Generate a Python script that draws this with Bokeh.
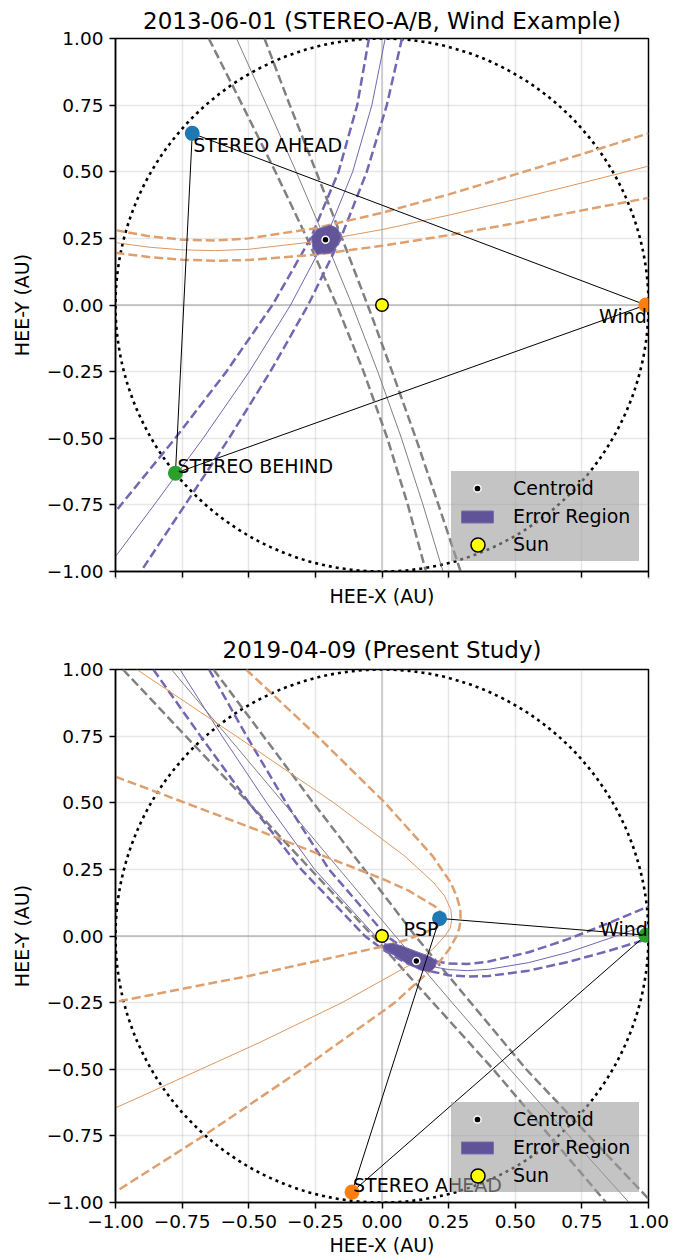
from bokeh.plotting import figure
from bokeh.layouts import column
from bokeh.models import (Range1d, FixedTicker, CustomJSTickFormatter, Span,
                          Legend, LegendItem, ColumnDataSource)
from bokeh.core.properties import value
from bokeh.embed import file_html
from bokeh.resources import INLINE

# ----------------------------------------------------------------- data
tick_values = [-1.0, -0.75, -0.5, -0.25, 0.0, 0.25, 0.5, 0.75, 1.0]
tick_labels = ["\u22121.00", "\u22120.75", "\u22120.50", "\u22120.25", "0.00",
               "0.25", "0.50", "0.75", "1.00"]
orbit_radius_au = 1.0
sun_x = [0.0]
sun_y = [0.0]
legend_labels = ["Centroid", "Error Region", "Sun"]

# ---- panel 1 : 2013-06-01
p1_title = "2013-06-01 (STEREO-A/B, Wind Example)"
p1_sc_names = ["STEREO AHEAD", "STEREO BEHIND", "Wind"]
p1_sc_x = [-0.712, -0.775, 0.99]
p1_sc_y = [0.644, -0.631, 0.0]
p1_centroid_x = [-0.212]
p1_centroid_y = [0.245]
p1_err_x = [-0.265, -0.244, -0.194, -0.166, -0.154, -0.166, -0.187, -0.244, -0.259]
p1_err_y = [0.256, 0.284, 0.300, 0.287, 0.256, 0.225, 0.196, 0.190, 0.212]

p1_purple_mid_x = [0.012, -0.038, -0.110, -0.211, -0.343, -0.498, -0.671, -0.855, -1.000]
p1_purple_mid_y = [1.000, 0.750, 0.500, 0.250, 0.000, -0.250, -0.500, -0.750, -0.944]
p1_purple_a_x = [-0.049, -0.093, -0.163, -0.268, -0.411, -0.584, -0.776, -1.000]
p1_purple_a_y = [1.000, 0.750, 0.500, 0.250, 0.000, -0.250, -0.500, -0.775]
p1_purple_b_x = [0.075, 0.018, -0.057, -0.155, -0.277, -0.419, -0.574, -0.739, -0.905]
p1_purple_b_y = [1.000, 0.750, 0.500, 0.250, 0.000, -0.250, -0.500, -0.750, -1.000]

p1_gray_y = [1.000, 0.750, 0.500, 0.250, 0.000, -0.250, -0.500, -0.750, -1.000]
p1_gray_mid_x = [-0.546, -0.433, -0.322, -0.215, -0.112, -0.016, 0.073, 0.154, 0.229]
p1_gray_a_x = [-0.650, -0.524, -0.400, -0.281, -0.170, -0.069, 0.020, 0.097, 0.165]
p1_gray_b_x = [-0.441, -0.346, -0.247, -0.150, -0.054, 0.038, 0.127, 0.212, 0.295]

p1_orange_x = [-1.000, -0.875, -0.750, -0.625, -0.500, -0.250, 0.000, 0.250, 0.500, 0.750, 1.000]
p1_orange_mid_y = [0.234, 0.217, 0.207, 0.204, 0.209, 0.238, 0.283, 0.337, 0.396, 0.458, 0.521]
p1_orange_a_y = [0.281, 0.258, 0.245, 0.242, 0.250, 0.288, 0.346, 0.415, 0.490, 0.566, 0.644]
p1_orange_b_y = [0.196, 0.180, 0.170, 0.166, 0.169, 0.189, 0.222, 0.262, 0.307, 0.355, 0.402]

# ---- panel 2 : 2019-04-09
p2_title = "2019-04-09 (Present Study)"
p2_sc_names = ["PSP", "STEREO AHEAD", "Wind"]
p2_sc_x = [0.216, -0.1125, 0.99]
p2_sc_y = [0.066, -0.961, 0.003]
p2_centroid_x = [0.129]
p2_centroid_y = [-0.094]
p2_err_x = [0.009, 0.044, 0.081, 0.131, 0.181, 0.206, 0.200, 0.181, 0.144, 0.094, 0.044, 0.012, 0.004]
p2_err_y = [-0.031, -0.028, -0.040, -0.059, -0.078, -0.094, -0.115, -0.134, -0.128, -0.103, -0.071, -0.053, -0.040]

p2_purple_mid_x = [-0.758, -0.600, -0.433, -0.253, -0.025, 0.042, 0.095, 0.140, 0.161, 0.200,
                   0.250, 0.320, 0.400, 0.550, 0.700, 0.850, 1.000]
p2_purple_mid_y = [1.000, 0.750, 0.500, 0.250, 0.000, -0.050, -0.080, -0.100, -0.107, -0.117,
                   -0.126, -0.130, -0.125, -0.100, -0.061, -0.010, 0.044]
p2_purple_a_x = [-0.858, -0.681, -0.499, -0.303, -0.064, 0.002, 0.089, 0.155, 0.250, 0.320,
                 0.400, 0.550, 0.700, 0.850, 1.000]
p2_purple_a_y = [1.000, 0.750, 0.500, 0.250, 0.000, -0.050, -0.100, -0.126, -0.147, -0.152,
                 -0.150, -0.130, -0.097, -0.056, -0.010]
p2_purple_b_x = [-0.649, -0.508, -0.360, -0.199, 0.017, 0.088, 0.130, 0.168, 0.200, 0.250,
                 0.320, 0.400, 0.550, 0.700, 0.850, 1.000]
p2_purple_b_y = [1.000, 0.750, 0.500, 0.250, 0.000, -0.050, -0.070, -0.086, -0.095, -0.103,
                 -0.105, -0.096, -0.061, -0.011, 0.048, 0.111]

p2_gray_mid_x = [-0.790, -0.580, -0.370, -0.160, 0.050, 0.263, 0.480, 0.702, 0.927]
p2_gray_mid_y = [1.000, 0.750, 0.500, 0.250, 0.000, -0.250, -0.500, -0.750, -1.000]
p2_gray_a_x = [-0.972, -0.501, -0.034, 0.417, 0.841]
p2_gray_a_y = [1.000, 0.500, 0.000, -0.500, -1.000]
p2_gray_b_x = [-0.632, -0.258, 0.125, 0.541, 1.013]
p2_gray_b_y = [1.000, 0.500, 0.000, -0.500, -1.000]

p2_orange_mid_x = [-0.920, -0.547, -0.181, 0.085, 0.194, 0.235, 0.258, 0.262, 0.256, 0.236,
                   0.190, 0.120, -0.150, -0.460, -0.680, -0.900, -1.000]
p2_orange_mid_y = [1.000, 0.750, 0.500, 0.300, 0.200, 0.150, 0.100, 0.062, 0.030, 0.000,
                   -0.050, -0.100, -0.250, -0.400, -0.500, -0.600, -0.645]
p2_orange_a_x = [-0.510, -0.243, 0.011, 0.190, 0.258, 0.280, 0.294, 0.295, 0.290, 0.280,
                 0.252, 0.213, 0.048, -0.300, -0.670, -1.000]
p2_orange_a_y = [1.000, 0.750, 0.500, 0.300, 0.200, 0.150, 0.100, 0.060, 0.030, 0.000,
                 -0.050, -0.100, -0.250, -0.500, -0.750, -0.960]
p2_orange_b_x = [-1.000, -0.500, 0.000, 0.100, 0.200, 0.220, 0.229, 0.220, 0.200, 0.100,
                 0.000, -0.500, -1.000]
p2_orange_b_y = [0.598, 0.410, 0.215, 0.170, 0.110, 0.090, 0.065, 0.045, 0.030, -0.012,
                 -0.040, -0.150, -0.247]

# ----------------------------------------------------------------- style
FONT = "DejaVu Sans"
TXT = "19px"
PURPLE = "#7466b2"
ORANGE = "#dfa06f"
ORANGE_S = "#dc9862"
GRAY = "#808080"
ERR_FILL = "#5e4f96"
ERR_EDGE = "#7a6db6"
C_BLUE, C_ORANGE, C_GREEN = "#1f77b4", "#ff7f0e", "#2ca02c"
TICK_JS = "return (tick < 0 ? '\\u2212' : '') + Math.abs(tick).toFixed(2);"


def curve(p, xs, ys, color, dashed):
    if dashed:
        p.line(xs, ys, line_color=color, line_width=2.5, line_dash="9 4")
    else:
        p.line(xs, ys, line_color=color, line_width=1.0)


def overlay_legend(renderer, loc, gw, gh):
    return Legend(items=[LegendItem(label=" ", renderers=[renderer])],
                  location=loc, margin=0, padding=0, spacing=0,
                  glyph_width=gw, glyph_height=gh, label_height=0, label_width=0,
                  label_standoff=0, label_text_font_size="1px",
                  background_fill_alpha=0, border_line_alpha=0)


def build(title, curves, err_x, err_y, sc_x, sc_y, sc_names, sc_colors, label_style,
          cen_x, cen_y, show_xlabels, border_top, border_bottom, title_standoff):
    p = figure(title=title, x_range=Range1d(-1, 1), y_range=Range1d(-1, 1),
               frame_width=533, frame_height=533,
               min_border_left=115, min_border_right=25,
               min_border_top=border_top, min_border_bottom=border_bottom,
               output_backend="svg", toolbar_location=None, tools="",
               background_fill_color="white", border_fill_color="white")
    p.title.text_font = FONT
    p.title.text_font_size = "23px"
    p.title.text_font_style = "normal"
    p.title.align = "center"
    p.title.standoff = title_standoff
    p.title.text_color = "black"

    for ax in (p.xaxis[0], p.yaxis[0]):
        ax.ticker = FixedTicker(ticks=tick_values)
        ax.formatter = CustomJSTickFormatter(code=TICK_JS)
        ax.major_label_overrides = dict(zip(tick_values, tick_labels))
        ax.axis_line_width = 1.5
        ax.axis_line_color = "black"
        ax.major_tick_line_width = 1.5
        ax.major_tick_line_color = "black"
        ax.major_tick_out = 6
        ax.major_tick_in = 0
        ax.minor_tick_out = 0
        ax.minor_tick_in = 0
        ax.major_label_text_font = FONT
        ax.major_label_text_font_size = "18.5px"
        ax.major_label_text_color = "black"
        ax.major_label_standoff = 6
        ax.axis_label_text_font = FONT
        ax.axis_label_text_font_size = TXT
        ax.axis_label_text_font_style = "normal"
        ax.axis_label_text_color = "black"
    p.xaxis.axis_label = "HEE-X (AU)"
    p.yaxis.axis_label = "HEE-Y (AU)"
    p.yaxis.axis_label_standoff = 11
    if show_xlabels:
        p.xaxis.axis_label_standoff = 3
    else:
        p.xaxis.major_label_text_font_size = "1px"
        p.xaxis.major_label_standoff = 0
        p.xaxis.axis_label_standoff = 3

    p.outline_line_color = "black"
    p.outline_line_width = 1.5
    p.outline_line_alpha = 1.0
    p.grid.grid_line_color = "#b0b0b0"
    p.grid.grid_line_alpha = 0.3
    p.grid.grid_line_width = 1.5

    p.add_layout(Span(location=0, dimension="height", line_color="#c4c4c4",
                      line_width=1.5, level="underlay"))
    p.add_layout(Span(location=0, dimension="width", line_color="#9a9a9a",
                      line_width=1.0, level="underlay"))

    # 1 AU orbit
    p.circle(x=sun_x, y=sun_y, radius=orbit_radius_au, fill_color=None,
             line_color="black", line_width=2.6, line_dash="3 4")

    for xs, ys, color, dashed in curves:
        curve(p, xs, ys, color, dashed)

    r_err = p.patch(err_x, err_y, fill_color=ERR_FILL, fill_alpha=0.97,
                    line_color=ERR_EDGE, line_width=1.0)

    # triangle between spacecraft
    p.line(sc_x + sc_x[:1], sc_y + sc_y[:1], line_color="black", line_width=1.0)

    p.scatter(sc_x, sc_y, size=15, fill_color=sc_colors, line_color=None)

    for i, (align, dx, dy) in enumerate(label_style):
        p.text(x=[sc_x[i]], y=[sc_y[i]], text=[sc_names[i]],
               text_font=value(FONT), text_font_size=value(TXT),
               text_color="black", text_align=align, text_baseline="alphabetic",
               x_offset=dx, y_offset=dy)

    r_sun = p.scatter(sun_x, sun_y, size=12.5, fill_color="yellow",
                      line_color="black", line_width=1.5)
    r_cen = p.scatter(cen_x, cen_y, size=7, fill_color="black",
                      line_color="white", line_width=1.5)

    # ---- legend: box + labels, then glyph overlays of the right sizes
    empty = ColumnDataSource(data=dict(x=[], y=[]))
    r_blank = p.line(x="x", y="y", source=empty, line_alpha=0)
    main = Legend(items=[LegendItem(label=lab, renderers=[r_blank]) for lab in legend_labels],
                  location=(336, 10), margin=0, padding=6, spacing=6,
                  glyph_width=40, glyph_height=22, label_height=22, label_width=120,
                  label_standoff=16, label_text_font=FONT, label_text_font_size=TXT,
                  label_text_color="black", background_fill_color="#9c9c9c",
                  background_fill_alpha=0.6, border_line_alpha=0)
    p.add_layout(main, "center")
    p.add_layout(overlay_legend(r_cen, (353, 74), 18, 18), "center")
    p.add_layout(overlay_legend(r_err, (342, 47.5), 40, 15), "center")
    p.add_layout(overlay_legend(r_sun, (344.5, 9.5), 35, 35), "center")
    return p


p1_curves = [
    (p1_gray_a_x, p1_gray_y, GRAY, True), (p1_gray_mid_x, p1_gray_y, GRAY, False),
    (p1_gray_b_x, p1_gray_y, GRAY, True),
    (p1_purple_a_x, p1_purple_a_y, PURPLE, True), (p1_purple_mid_x, p1_purple_mid_y, PURPLE, False),
    (p1_purple_b_x, p1_purple_b_y, PURPLE, True),
    (p1_orange_x, p1_orange_a_y, ORANGE, True), (p1_orange_x, p1_orange_mid_y, ORANGE_S, False),
    (p1_orange_x, p1_orange_b_y, ORANGE, True),
]
p2_curves = [
    (p2_gray_a_x, p2_gray_a_y, GRAY, True), (p2_gray_mid_x, p2_gray_mid_y, GRAY, False),
    (p2_gray_b_x, p2_gray_b_y, GRAY, True),
    (p2_purple_a_x, p2_purple_a_y, PURPLE, True), (p2_purple_mid_x, p2_purple_mid_y, PURPLE, False),
    (p2_purple_b_x, p2_purple_b_y, PURPLE, True),
    (p2_orange_a_x, p2_orange_a_y, ORANGE, True), (p2_orange_mid_x, p2_orange_mid_y, ORANGE_S, False),
    (p2_orange_b_x, p2_orange_b_y, ORANGE, True),
]

p1 = build(p1_title, p1_curves, p1_err_x, p1_err_y, p1_sc_x, p1_sc_y, p1_sc_names,
           [C_BLUE, C_GREEN, C_ORANGE],
           [("left", 1, 12), ("left", 2, -7), ("right", 1, 11)],
           p1_centroid_x, p1_centroid_y, False, 37, 48, 10)
p2 = build(p2_title, p2_curves, p2_err_x, p2_err_y, p2_sc_x, p2_sc_y, p2_sc_names,
           [C_BLUE, C_ORANGE, C_GREEN],
           [("right", -1, 11), ("left", 1, -7), ("right", 2, -6)],
           p2_centroid_x, p2_centroid_y, True, 50, 59, 14)

layout = column(p1, p2)
open("out.html", "w").write(file_html(layout, INLINE))
